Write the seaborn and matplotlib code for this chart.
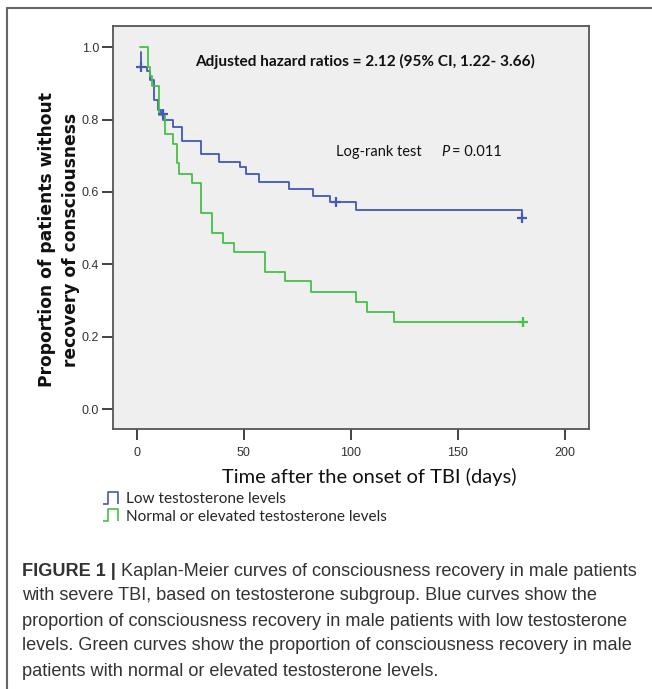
import matplotlib
matplotlib.use("Agg")
import matplotlib.pyplot as plt
import seaborn as sns
from matplotlib.lines import Line2D
from matplotlib.path import Path

# Kaplan-Meier step data (days, proportion)
blue_time = [1.9, 1.9, 4.7, 6.2, 8.1, 10.1, 11.2, 12.4, 17.1, 21.3, 30.0, 38.5,
             48.3, 50.9, 57.3, 71.2, 82.5, 90.3, 102.5, 180.2, 180.2]
blue_surv = [0.985, 0.946, 0.935, 0.909, 0.854, 0.826, 0.815, 0.800, 0.780, 0.741,
             0.704, 0.684, 0.670, 0.650, 0.628, 0.608, 0.590, 0.572, 0.550, 0.550, 0.529]
green_time = [1.5, 5.4, 6.2, 7.3, 10.2, 13.2, 16.8, 18.7, 19.9, 26.0, 30.0, 35.0,
              40.5, 45.5, 60.0, 69.3, 81.3, 102.5, 107.5, 120.4, 180.4]
green_surv = [1.0, 0.946, 0.919, 0.892, 0.812, 0.759, 0.732, 0.679, 0.650, 0.624,
              0.541, 0.488, 0.460, 0.434, 0.378, 0.353, 0.325, 0.297, 0.270, 0.242, 0.242]

# censored observations
blue_cens_time = [1.9, 12.4, 93.1, 180.2]
blue_cens_surv = [0.946, 0.815, 0.572, 0.529]
green_cens_time = [180.4]
green_cens_surv = [0.242]

x_ticks = [0, 50, 100, 150, 200]
y_ticks = [0.0, 0.2, 0.4, 0.6, 0.8, 1.0]
group_labels = ["Low testosterone levels", "Normal or elevated testosterone levels"]

caption_lines = [
    "Kaplan-Meier curves of consciousness recovery in male patients",
    "with severe TBI, based on testosterone subgroup. Blue curves show the",
    "proportion of consciousness recovery in male patients with low testosterone",
    "levels. Green curves show the proportion of consciousness recovery in male",
    "patients with normal or elevated testosterone levels.",
]

BLUE = "#4358b8"
GREEN = "#46c046"

sns.set_style("ticks")
plt.rcParams["font.family"] = ["Lato", "DejaVu Sans"]

W, H = 652, 689
fig = plt.figure(figsize=(W / 100, H / 100), dpi=100)
fig.patch.set_facecolor("white")

ax = fig.add_axes([113 / W, 1 - 429 / H, 476 / W, 403 / H])
ax.set_facecolor("#efefef")

sns.lineplot(x=blue_time, y=blue_surv, drawstyle="steps-post", estimator=None,
             sort=False, color=BLUE, lw=1.3, ax=ax)
sns.lineplot(x=green_time, y=green_surv, drawstyle="steps-post", estimator=None,
             sort=False, color=GREEN, lw=1.3, ax=ax)
sns.scatterplot(x=blue_cens_time, y=blue_cens_surv, marker="+", s=60,
                color=BLUE, linewidth=1.6, ax=ax, zorder=4)
sns.scatterplot(x=green_cens_time, y=green_cens_surv, marker="+", s=60,
                color=GREEN, linewidth=1.6, ax=ax, zorder=4)

ax.set_xlim(-11.1, 211.4)
ax.set_ylim(-0.054, 1.058)
ax.set_xticks(x_ticks)
ax.set_yticks(y_ticks)
ax.set_xticklabels([str(t) for t in x_ticks], family="Liberation Sans", fontsize=9, color="#333333")
ax.set_yticklabels([f"{t:.1f}" for t in y_ticks], family="Liberation Sans", fontsize=9, color="#333333")
ax.tick_params(axis="both", direction="out", length=8, width=1.3, color="#333333")
ax.tick_params(axis="x", pad=5)
ax.tick_params(axis="y", pad=2)
for side in ["left", "right", "top", "bottom"]:
    ax.spines[side].set_visible(True)
    ax.spines[side].set_color("#555555")
    ax.spines[side].set_linewidth(1.3)

ax.set_xlabel("Time after the onset of TBI (days)", fontsize=14.5, color="#111111", va="center")
ax.xaxis.set_label_coords(0.538, -0.119)
ax.set_ylabel("Proportion of patients without\nrecovery of consciousness",
              family="DejaVu Sans", fontweight="bold", fontsize=12.3, color="#111111",
              linespacing=1.45, va="center")
ax.yaxis.set_label_coords(-0.113, 0.47)

ax.text(0.529, 0.911, "Adjusted hazard ratios = 2.12 (95% CI, 1.22- 3.66)",
        transform=ax.transAxes, ha="center", va="center", fontsize=11.1,
        fontweight="bold", color="#111111")
ax.text(0.468, 0.687, "Log-rank test", transform=ax.transAxes, ha="left",
        va="center", fontsize=10.5, color="#111111")
ax.text(0.690, 0.687, "P", transform=ax.transAxes, ha="left", va="center",
        fontsize=10.5, style="italic", color="#111111")
ax.text(0.712, 0.687, "= 0.011", transform=ax.transAxes, ha="left",
        va="center", fontsize=10.5, color="#111111")

# step-shaped legend glyph
glyph = Path([(-1.0, -0.7), (-0.4, -0.7), (-0.4, 0.7), (0.7, 0.7), (0.7, -0.7)],
             [Path.MOVETO, Path.LINETO, Path.LINETO, Path.LINETO, Path.LINETO])
handles = [Line2D([], [], color=c, marker=glyph, linestyle="none", markersize=13,
                  markerfacecolor="none", markeredgewidth=1.2) for c in (BLUE, GREEN)]
ax.legend(handles, group_labels, loc="upper left", bbox_to_anchor=(104 / W, 1 - 492 / H),
          bbox_transform=fig.transFigure, frameon=False, fontsize=11.1,
          handlelength=1.0, handletextpad=0.45, labelspacing=0.25, borderpad=0,
          borderaxespad=0)

# figure frame (top and left)
fig.add_artist(Line2D([7 / W, 7 / W], [0, 1 - 8 / H], transform=fig.transFigure,
                      color="#666666", lw=1.5))
fig.add_artist(Line2D([7 / W, 1], [1 - 8 / H, 1 - 8 / H], transform=fig.transFigure,
                      color="#666666", lw=1.5))

# caption
cap_font = dict(family="Liberation Sans", fontsize=13.05, color="#333333", va="center")
renderer = fig.canvas.get_renderer()
bold = fig.text(22 / W, 1 - 571 / H, "FIGURE 1 |", fontweight="bold", **cap_font)
bb = bold.get_window_extent(renderer)
fig.text((bb.x1 + 5) / W, 1 - 571 / H, caption_lines[0], **cap_font)
for i, line in enumerate(caption_lines[1:], start=1):
    fig.text(22 / W, 1 - (571 + 25 * i) / H, line, **cap_font)

fig.savefig("out.png", dpi=100, facecolor="white")
